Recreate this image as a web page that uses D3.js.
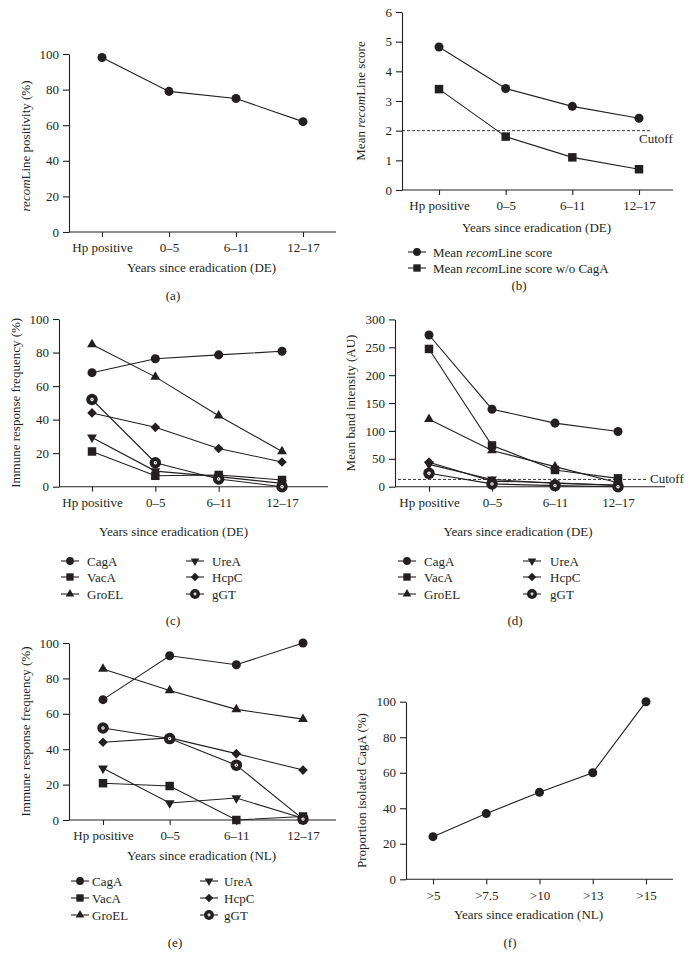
<!DOCTYPE html>
<html><head><meta charset="utf-8">
<script src="https://cdn.jsdelivr.net/npm/d3@7"></script>
<style>
body{margin:0;background:#fff;}
svg{display:block;}
text{font-family:"Liberation Serif","DejaVu Serif",serif;fill:#231f20;}
</style></head><body>
<svg id="chart" width="690" height="967"></svg>
<script>
// ---------- DATA ----------
const categoriesDE = ["Hp positive", "0–5", "6–11", "12–17"];
const categoriesNL = [">5", ">7.5", ">10", ">13", ">15"];

const positivityA = [98, 79, 75, 62];

const meanScoreB = [4.82, 3.42, 2.82, 2.42];
const meanScoreNoCagAB = [3.4, 1.8, 1.1, 0.7];
const cutoffB = 2;

const cagaC = [68, 76.3, 78.6, 80.8];
const vacaC = [21, 6.5, 7, 4];
const groelC = [84.8, 65.5, 42.3, 21];
const ureaC = [29.4, 9.3, 6, 2];
const hcpcC = [44, 35.4, 22.8, 14.7];
const ggtC = [52, 14.3, 4.6, 0];

const cagaD = [272, 139, 114, 99];
const vacaD = [247, 74, 30, 15];
const groelD = [121, 65, 36, 7];
const ureaD = [40, 13, 6, 3];
const hcpcD = [44, 10, 7, 2];
const ggtD = [24, 5, 2, 0];
const cutoffD = 13;

const cagaE = [68, 92.8, 87.7, 100];
const vacaE = [20.8, 19.2, 0, 2];
const groelE = [85.3, 73.2, 62.5, 57];
const ureaE = [29.2, 9.6, 12.4, 1];
const hcpcE = [43.9, 46.4, 37.5, 28.2];
const ggtE = [52, 46, 31, 0.5];

const proportionF = [24, 37, 49, 60, 100];

const ticksPct = [0, 20, 40, 60, 80, 100];
const ticksB = [0, 1, 2, 3, 4, 5, 6];
const ticksD = [0, 50, 100, 150, 200, 250, 300];

const antigenNames = ["CagA", "VacA", "GroEL", "UreA", "HcpC", "gGT"];
const antigenSymbols = ["circle", "square", "triangle", "triangleDown", "diamond", "ring"];

// ---------- DRAWING ----------
const svg = d3.select("#chart");
const INK = "#231f20";

function drawMarker(g, type, x, y, scale) {
  scale = scale || 1;
  const t = `translate(${x},${y})`;
  if (type === "circle") {
    g.append("path").attr("d", d3.symbol(d3.symbolCircle, 64 * scale)()).attr("transform", t).attr("fill", INK);
  } else if (type === "square") {
    g.append("path").attr("d", d3.symbol(d3.symbolSquare, 72 * scale)()).attr("transform", t).attr("fill", INK);
  } else if (type === "triangle") {
    g.append("path").attr("d", d3.symbol(d3.symbolTriangle, 42 * scale)()).attr("transform", t).attr("fill", INK);
  } else if (type === "triangleDown") {
    g.append("path").attr("d", d3.symbol(d3.symbolTriangle, 42 * scale)()).attr("transform", t + " rotate(180)").attr("fill", INK);
  } else if (type === "diamond") {
    g.append("path").attr("d", d3.symbol(d3.symbolSquare, 46 * scale)()).attr("transform", t + " rotate(45)").attr("fill", INK);
  } else if (type === "ring") {
    g.append("path").attr("d", d3.symbol(d3.symbolCircle, 104 * scale)()).attr("transform", t).attr("fill", INK);
    g.append("path").attr("d", d3.symbol(d3.symbolCircle, 9 * scale)()).attr("transform", t).attr("fill", "#fff");
    g.append("path").attr("d", d3.symbol(d3.symbolCircle, 1.2 * scale)()).attr("transform", t).attr("fill", INK);
  }
}

function richText(sel, parts) {
  parts.forEach(p => {
    const ts = sel.append("tspan").text(p.t);
    if (p.i) ts.attr("font-style", "italic");
  });
}

function drawPanel(o) {
  const g = svg.append("g");
  const x = d3.scalePoint().domain(o.categories).range([o.firstX, o.lastX]);
  const y = d3.scaleLinear().domain([0, o.ymax]).range([o.y0, o.yTop]);

  // y axis
  const ya = g.append("g").attr("transform", `translate(${o.x0},0)`)
    .call(d3.axisLeft(y).tickValues(o.yTicks).tickFormat(d3.format("d"))
      .tickSize(6).tickSizeOuter(0).tickPadding(4));
  ya.selectAll("path,line").attr("stroke", INK).attr("stroke-width", 1.1);
  ya.selectAll("text").attr("font-size", 13).attr("fill", INK);

  // x axis baseline + ticks
  g.append("line").attr("x1", o.x0).attr("x2", o.x1).attr("y1", o.y0).attr("y2", o.y0)
    .attr("stroke", INK).attr("stroke-width", 1.1);
  const xa = g.append("g").attr("transform", `translate(0,${o.y0})`)
    .call(d3.axisBottom(x).tickSize(5).tickPadding(6));
  xa.select(".domain").remove();
  xa.selectAll("line").attr("stroke", INK).attr("stroke-width", 1.1);
  xa.selectAll("text").attr("font-size", 13).attr("fill", INK);

  // cutoff
  if (o.cutoff !== undefined) {
    g.append("line").attr("x1", o.cutX1).attr("x2", o.cutX2)
      .attr("y1", y(o.cutoff)).attr("y2", y(o.cutoff))
      .attr("stroke", INK).attr("stroke-width", 0.9).attr("stroke-dasharray", "3,2");
    g.append("text").attr("x", o.cutTextX).attr("y", y(o.cutoff) + o.cutTextDy)
      .attr("font-size", 13).text("Cutoff");
  }

  // series lines
  const line = d3.line().x((d, i) => x(o.categories[i])).y(d => y(d));
  o.series.forEach(s => {
    g.append("path").attr("d", line(s.values)).attr("fill", "none")
      .attr("stroke", INK).attr("stroke-width", 1.1);
  });
  // markers
  o.series.forEach(s => {
    s.values.forEach((v, i) => drawMarker(g, s.symbol, x(o.categories[i]), y(v)));
  });

  // axis titles
  g.append("text").attr("x", (o.x0 + o.x1) / 2 + (o.xTitleDx || 0)).attr("y", o.y0 + o.xTitleDy)
    .attr("text-anchor", "middle").attr("font-size", 13).text(o.xTitle);
  const yt = g.append("text")
    .attr("transform", `translate(${o.yTitleX},${(o.y0 + o.yTop) / 2 + (o.yTitleDy || 0)}) rotate(-90)`)
    .attr("text-anchor", "middle").attr("dominant-baseline", "central").attr("font-size", 13);
  richText(yt, o.yTitle);

  // legend
  if (o.legend) {
    o.legend.forEach(l => {
      g.append("line").attr("x1", l.x - 9).attr("x2", l.x + 9).attr("y1", l.y).attr("y2", l.y)
        .attr("stroke", INK).attr("stroke-width", 1.1);
      drawMarker(g, l.symbol, l.x, l.y, 0.75);
      const t = g.append("text").attr("x", l.tx).attr("y", l.y).attr("dominant-baseline", "central")
        .attr("font-size", 13);
      richText(t, l.label);
    });
  }

  // panel label
  g.append("text").attr("x", o.labelX).attr("y", o.labelY).attr("text-anchor", "middle")
    .attr("dominant-baseline", "central").attr("font-size", 13).text(o.label);
}

function antigenSeries(vals) {
  return vals.map((v, i) => ({ name: antigenNames[i], symbol: antigenSymbols[i], values: v }));
}
function antigenLegend(c1x, c1t, c2x, c2t, rows) {
  return antigenNames.map((n, i) => ({
    x: i < 3 ? c1x : c2x, tx: i < 3 ? c1t : c2t, y: rows[i % 3],
    symbol: antigenSymbols[i], label: [{ t: n }]
  }));
}

// (a)
drawPanel({
  categories: categoriesDE, firstX: 102, lastX: 303, x0: 69, x1: 336,
  y0: 232, yTop: 54, ymax: 100, yTicks: ticksPct,
  series: [{ symbol: "circle", values: positivityA }],
  xTitle: "Years since eradication (DE)", xTitleDy: 40, xTitleDx: -1,
  yTitle: [{ t: "recom", i: true }, { t: "Line positivity (%)" }], yTitleX: 25, yTitleDy: 3,
  label: "(a)", labelX: 173, labelY: 295
});

// (b)
drawPanel({
  categories: categoriesDE, firstX: 439, lastX: 639, x0: 402, x1: 673,
  y0: 190, yTop: 12, ymax: 6, yTicks: ticksB,
  series: [{ symbol: "circle", values: meanScoreB }, { symbol: "square", values: meanScoreNoCagAB }],
  cutoff: cutoffB, cutX1: 402, cutX2: 650, cutTextX: 639, cutTextDy: 12,
  xTitle: "Years since eradication (DE)", xTitleDy: 42, xTitleDx: -1,
  yTitle: [{ t: "Mean " }, { t: "recom", i: true }, { t: "Line score" }], yTitleX: 360,
  legend: [
    { x: 417, tx: 433, y: 252, symbol: "circle", label: [{ t: "Mean " }, { t: "recom", i: true }, { t: "Line score" }] },
    { x: 417, tx: 433, y: 268, symbol: "square", label: [{ t: "Mean " }, { t: "recom", i: true }, { t: "Line score w/o CagA" }] }
  ],
  label: "(b)", labelX: 519, labelY: 285
});

// (c)
drawPanel({
  categories: categoriesDE, firstX: 92, lastX: 282, x0: 59, x1: 328,
  y0: 486.7, yTop: 319, ymax: 100, yTicks: ticksPct,
  series: antigenSeries([cagaC, vacaC, groelC, ureaC, hcpcC, ggtC]),
  xTitle: "Years since eradication (DE)", xTitleDy: 49, xTitleDx: -20,
  yTitle: [{ t: "Immune response frequency (%)" }], yTitleX: 15,
  legend: antigenLegend(70, 87, 195, 212, [561, 577, 594]),
  label: "(c)", labelX: 173, labelY: 620
});

// (d)
drawPanel({
  categories: categoriesDE, firstX: 429, lastX: 618, x0: 395, x1: 665,
  y0: 486.7, yTop: 319.4, ymax: 300, yTicks: ticksD,
  series: antigenSeries([cagaD, vacaD, groelD, ureaD, hcpcD, ggtD]),
  cutoff: cutoffD, cutX1: 398, cutX2: 647, cutTextX: 650, cutTextDy: 4,
  xTitle: "Years since eradication (DE)", xTitleDy: 49, xTitleDx: -12,
  yTitle: [{ t: "Mean band intensity (AU)" }], yTitleX: 350,
  legend: antigenLegend(407, 424, 532, 550, [561, 577, 594]),
  label: "(d)", labelX: 515, labelY: 620
});

// (e)
drawPanel({
  categories: categoriesDE, firstX: 103, lastX: 303, x0: 69, x1: 336,
  y0: 820, yTop: 643, ymax: 100, yTicks: ticksPct,
  series: antigenSeries([cagaE, vacaE, groelE, ureaE, hcpcE, ggtE]),
  xTitle: "Years since eradication (NL)", xTitleDy: 40, xTitleDx: -1,
  yTitle: [{ t: "Immune response frequency (%)" }], yTitleX: 25,
  legend: antigenLegend(80, 92, 209, 224, [881, 898, 915]),
  label: "(e)", labelX: 175, labelY: 942
});

// (f)
drawPanel({
  categories: categoriesNL, firstX: 433, lastX: 646, x0: 406, x1: 673,
  y0: 879.3, yTop: 701.7, ymax: 100, yTicks: ticksPct,
  series: [{ symbol: "circle", values: proportionF }],
  xTitle: "Years since eradication (NL)", xTitleDy: 40, xTitleDx: -11,
  yTitle: [{ t: "Proportion isolated CagA (%)" }], yTitleX: 361, yTitleDy: 0,
  label: "(f)", labelX: 510, labelY: 942
});
</script>
</body></html>
